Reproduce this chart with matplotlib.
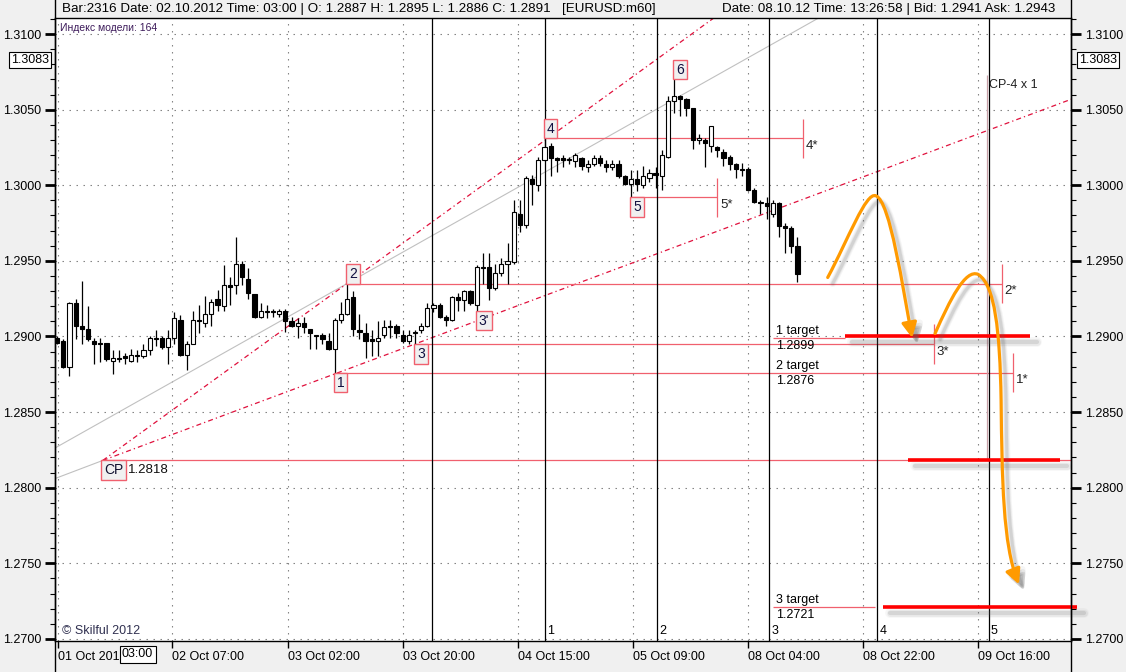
import numpy as np
import matplotlib.pyplot as plt
import matplotlib.transforms as mtransforms
from matplotlib.path import Path
from matplotlib.patches import FancyArrowPatch
from matplotlib.lines import Line2D
from matplotlib.ticker import MultipleLocator, FormatStrFormatter

plt.rcParams['font.family'] = ['Liberation Sans', 'DejaVu Sans']

# EURUSD H1 candles, one per bar index (01 Oct 13:00 .. 08 Oct 12:00)
opens = [1.2899, 1.2897, 1.2880, 1.2922, 1.2907, 1.2905, 1.2897, 1.2896, 1.2896, 1.2884,
         1.2886, 1.2887, 1.2884, 1.2888, 1.2887, 1.2891, 1.2899, 1.2899, 1.2893, 1.2899,
         1.2911, 1.2888, 1.2895, 1.2911, 1.2909, 1.2915, 1.2925, 1.2920, 1.2934, 1.2934,
         1.2948, 1.2938, 1.2928, 1.2913, 1.2917, 1.2917, 1.2915, 1.2917, 1.2910, 1.2907,
         1.2909, 1.2905, 1.2901, 1.2901, 1.2897, 1.2892, 1.2911, 1.2915, 1.2926, 1.2904,
         1.2902, 1.2898, 1.2897, 1.2901, 1.2907, 1.2907, 1.2901, 1.2897, 1.2902, 1.2904,
         1.2907, 1.2919, 1.2921, 1.2913, 1.2911, 1.2926, 1.2924, 1.2930, 1.2921, 1.2946,
         1.2946, 1.2932, 1.2942, 1.2948, 1.2949, 1.2981, 1.2974, 1.3004, 1.3000, 1.3017,
         1.3026, 1.3018, 1.3018, 1.3017, 1.3016, 1.3018, 1.3012, 1.3014, 1.3018, 1.3014,
         1.3012, 1.3014, 1.3006, 1.3001, 1.3004, 1.3000, 1.3005, 1.3008, 1.3006, 1.3019,
         1.3056, 1.3059, 1.3057, 1.3051, 1.3030, 1.3030, 1.3026, 1.3025, 1.3022, 1.3019,
         1.3014, 1.3011, 1.3011, 1.2997, 1.2989, 1.2988, 1.2981, 1.2988, 1.2973, 1.2972,
         1.2960]
highs = [1.2900, 1.2898, 1.2923, 1.2925, 1.2937, 1.2920, 1.2899, 1.2899, 1.2896, 1.2891,
         1.2891, 1.2889, 1.2892, 1.2891, 1.2895, 1.2900, 1.2904, 1.2900, 1.2904, 1.2916,
         1.2914, 1.2897, 1.2917, 1.2921, 1.2927, 1.2925, 1.2931, 1.2947, 1.2939, 1.2966,
         1.2950, 1.2945, 1.2928, 1.2922, 1.2921, 1.2918, 1.2918, 1.2918, 1.2913, 1.2912,
         1.2913, 1.2905, 1.2901, 1.2902, 1.2902, 1.2912, 1.2923, 1.2935, 1.2930, 1.2915,
         1.2909, 1.2904, 1.2910, 1.2911, 1.2911, 1.2908, 1.2904, 1.2904, 1.2904, 1.2909,
         1.2922, 1.2922, 1.2922, 1.2914, 1.2927, 1.2929, 1.2931, 1.2931, 1.2947, 1.2955,
         1.2955, 1.2948, 1.2952, 1.2962, 1.2990, 1.2990, 1.3006, 1.3007, 1.3019, 1.3031,
         1.3028, 1.3019, 1.3020, 1.3019, 1.3021, 1.3019, 1.3017, 1.3020, 1.3020, 1.3017,
         1.3017, 1.3017, 1.3007, 1.3010, 1.3010, 1.3013, 1.3011, 1.3012, 1.3023, 1.3059,
         1.3070, 1.3060, 1.3058, 1.3051, 1.3034, 1.3031, 1.3039, 1.3026, 1.3024, 1.3020,
         1.3015, 1.3015, 1.3012, 1.2998, 1.2990, 1.2992, 1.2990, 1.2989, 1.2975, 1.2973,
         1.2966]
lows = [1.2895, 1.2879, 1.2874, 1.2898, 1.2895, 1.2897, 1.2882, 1.2883, 1.2884, 1.2875,
        1.2883, 1.2882, 1.2883, 1.2883, 1.2886, 1.2888, 1.2894, 1.2892, 1.2882, 1.2895,
        1.2887, 1.2878, 1.2895, 1.2902, 1.2906, 1.2907, 1.2917, 1.2917, 1.2921, 1.2928,
        1.2934, 1.2925, 1.2912, 1.2912, 1.2912, 1.2913, 1.2913, 1.2903, 1.2906, 1.2899,
        1.2902, 1.2892, 1.2892, 1.2895, 1.2891, 1.2876, 1.2909, 1.2914, 1.2900, 1.2898,
        1.2886, 1.2887, 1.2887, 1.2899, 1.2899, 1.2899, 1.2896, 1.2895, 1.2895, 1.2902,
        1.2906, 1.2916, 1.2912, 1.2907, 1.2910, 1.2917, 1.2917, 1.2921, 1.2917, 1.2935,
        1.2924, 1.2931, 1.2940, 1.2935, 1.2948, 1.2969, 1.2972, 1.2987, 1.2996, 1.3016,
        1.3006, 1.3009, 1.3012, 1.3014, 1.3012, 1.3010, 1.3009, 1.3013, 1.3013, 1.3009,
        1.3010, 1.3005, 1.3000, 1.2992, 1.2996, 1.2998, 1.3002, 1.2998, 1.2997, 1.3018,
        1.3048, 1.3046, 1.3046, 1.3024, 1.3027, 1.3012, 1.3022, 1.3019, 1.3013, 1.3010,
        1.3005, 1.3006, 1.2996, 1.2988, 1.2981, 1.2978, 1.2979, 1.2966, 1.2955, 1.2955,
        1.2936]
closes = [1.2896, 1.2880, 1.2922, 1.2907, 1.2905, 1.2898, 1.2895, 1.2895, 1.2885, 1.2886,
          1.2885, 1.2886, 1.2888, 1.2887, 1.2891, 1.2899, 1.2898, 1.2893, 1.2899, 1.2912,
          1.2888, 1.2895, 1.2911, 1.2910, 1.2915, 1.2923, 1.2921, 1.2934, 1.2933, 1.2948,
          1.2939, 1.2929, 1.2913, 1.2917, 1.2916, 1.2916, 1.2917, 1.2910, 1.2907, 1.2909,
          1.2906, 1.2902, 1.2900, 1.2898, 1.2892, 1.2911, 1.2915, 1.2925, 1.2905, 1.2903,
          1.2897, 1.2897, 1.2899, 1.2906, 1.2906, 1.2902, 1.2897, 1.2901, 1.2903, 1.2907,
          1.2919, 1.2921, 1.2913, 1.2911, 1.2926, 1.2924, 1.2930, 1.2922, 1.2946, 1.2945,
          1.2932, 1.2942, 1.2948, 1.2950, 1.2982, 1.2974, 1.3005, 1.3001, 1.3017, 1.3025,
          1.3018, 1.3017, 1.3017, 1.3017, 1.3020, 1.3013, 1.3014, 1.3018, 1.3015, 1.3012,
          1.3014, 1.3006, 1.3001, 1.3004, 1.3001, 1.3006, 1.3008, 1.3007, 1.3020, 1.3056,
          1.3059, 1.3057, 1.3051, 1.3030, 1.3031, 1.3028, 1.3039, 1.3023, 1.3018, 1.3014,
          1.3011, 1.3010, 1.2997, 1.2989, 1.2988, 1.2986, 1.2988, 1.2973, 1.2972, 1.2960,
          1.2941]

# time scale (bar index of each label); first label is cut by the cursor box
time_ticks = [0.15, 18.62, 37.42, 56.06, 74.70, 93.34, 111.98, 130.62, 149.25]
time_labels = ['01 Oct 201', '02 Oct 07:00', '03 Oct 02:00', '03 Oct 20:00', '04 Oct 15:00',
               '05 Oct 09:00', '08 Oct 04:00', '08 Oct 22:00', '09 Oct 16:00']

# wave points
wave_names = ['1', '2', '3', "3'", '4', '5', '6']
wave_bars = [45, 47, 58, 68, 79, 93, 100]
wave_prices = [1.2876, 1.2935, 1.2895, 1.2917, 1.3031, 1.2992, 1.3070]
wave_is_low = [True, False, True, True, False, True, False]

# control point
cp_bar, cp_price = 7.4, 1.2818

# projected levels "N*"
star_names = ['1*', '2*', '3*', '4*', '5*']
star_prices = [1.2876, 1.2935, 1.2895, 1.3031, 1.2992]
star_start = [45, 47, 58, 79, 93]
star_end = [154.9, 153.1, 142.1, 120.9, 107.0]

# targets
target_names = ['1 target', '2 target', '3 target']
target_values = [1.2899, 1.2876, 1.2721]
target_label_bar = 116.5
target_line_end = [127.7, None, 132.5]

# bold red target bars
bold_prices = [1.2900, 1.2818, 1.2721]
bold_start = [127.7, 137.9, 133.9]
bold_end = [157.7, 162.5, 165.3]

# time verticals
vline_bars = [60.8, 79.1, 97.2, 115.4, 132.9, 151.0]
vline_labels = ['', '1', '2', '3', '4', '5']

# CP-4 x 1 marker
cp4_bar, cp4_top = 150.7, 1.3073

# gray helper lines
gray_b = [(0, 1.2827), (47, 1.2935)]
gray_a = [(-1, 1.2805), (cp_bar, cp_price)]

# forecast arrows (bezier control points, bar / price)
arrow1 = [(124.9, 1.2939), (128.2, 1.2964), (131.1, 1.2996), (132.7, 1.2993),
          (135.0, 1.2990), (137.1, 1.2931), (138.6, 1.2899)]
arrow2 = [(142.3, 1.2902), (144.7, 1.2924), (147.2, 1.2945), (149.3, 1.2941),
          (152.0, 1.2934), (152.8, 1.2904), (153.0, 1.2858),
          (153.15, 1.2805), (153.3, 1.2762), (155.9, 1.2736)]

W, H = 1126, 672
PINK = '#f0606e'
fig = plt.figure(figsize=(W / 100, H / 100), dpi=100, facecolor='#f0f0f0')
ax = fig.add_axes([55 / W, 1 - 641 / H, (1071 - 55) / W, (641 - 18) / H])
ax.set_facecolor('white')
ax.set_xlim(-0.34, 164.33)
ax.set_ylim(1.26986, 1.31106)


def fx(x):
    return x / W


def fy(y):
    return 1 - y / H


def shift(dx, dy):
    return ax.transData + mtransforms.ScaledTranslation(dx / 100, -dy / 100, fig.dpi_scale_trans)


# grid and axes
ax.yaxis.set_major_locator(MultipleLocator(0.005))
ax.yaxis.set_minor_locator(MultipleLocator(0.001))
ax.yaxis.set_major_formatter(FormatStrFormatter('%.4f'))
ax.set_xticks(time_ticks)
ax.set_xticklabels(time_labels)
for lbl in ax.get_xticklabels():
    lbl.set_ha('left')
ax.tick_params(axis='x', length=5, width=1, pad=2, labelsize=9)
ax.tick_params(axis='y', which='major', left=True, right=True, labelleft=True,
               labelright=True, length=7, width=2, pad=3, labelsize=9)
ax.tick_params(axis='y', which='minor', left=True, right=True, length=3.5, width=0.8)
ax.grid(True, which='major', color='#808080', lw=0.8, linestyle=(0, (1.3, 5)))
ax.set_axisbelow(True)
for s in ax.spines.values():
    s.set_linewidth(1)

# candles
idx = np.arange(len(opens))
o = np.array(opens)
c = np.array(closes)
up = c >= o
ax.vlines(idx, lows, highs, color='black', lw=0.9, zorder=3)
ax.bar(idx, np.maximum(np.abs(c - o), 0.00003), bottom=np.minimum(o, c), width=0.68,
       color=np.where(up, 'white', 'black'), edgecolor='black', lw=0.8, zorder=4)

# gray lines
ax.axline(gray_b[0], gray_b[1], color='#c0c0c0', lw=0.8, zorder=2)
ax.plot([p[0] for p in gray_a], [p[1] for p in gray_a], color='#c0c0c0', lw=0.8, zorder=2)

# red dash-dot lines from CP through 2 and through 3
for wb, wp in [(47, 1.2935), (58, 1.2895)]:
    slope = (wp - cp_price) / (wb - cp_bar)
    ax.plot([cp_bar, 300], [cp_price, cp_price + slope * (300 - cp_bar)],
            color='#e0103c', lw=0.9, linestyle=(0, (4, 2.5, 1, 2.5)), zorder=2)

# CP level
ax.hlines(cp_price, cp_bar, 170, color=PINK, lw=0.9, zorder=2)
ax.annotate('CP', xy=(cp_bar, cp_price), xytext=(1, -2), textcoords='offset points',
            ha='left', va='top', fontsize=10, color='#101030',
            bbox=dict(boxstyle='square,pad=0.2', fc='#f0f0f0', ec=PINK, lw=1), zorder=6)
ax.annotate(f'{cp_price:.4f}', xy=(cp_bar, cp_price), xytext=(18, -2.5),
            textcoords='offset points', ha='left', va='top', fontsize=9.5, color='#101010')

# star levels
for name, p, b0, b1 in zip(star_names, star_prices, star_start, star_end):
    ax.hlines(p, b0, b1, color=PINK, lw=0.9, zorder=2)
    ax.vlines(b1, p - 0.0013, p + 0.0013, color=PINK, lw=0.9, zorder=2)
    ax.annotate(name, xy=(b1, p), xytext=(2, -5.5), textcoords='offset points',
                ha='left', va='center', fontsize=9.5, color='#202020')

# wave labels
for name, b, p, low in zip(wave_names, wave_bars, wave_prices, wave_is_low):
    ax.annotate(name, xy=(b, p), xytext=(1.5, -2 if low else 2), textcoords='offset points',
                ha='left', va='top' if low else 'bottom', fontsize=10, color='#101040',
                bbox=dict(boxstyle='square,pad=0.2', fc='#f0f0f0', ec=PINK, lw=1), zorder=6)

# vertical time lines
bx = mtransforms.blended_transform_factory(ax.transData, ax.transAxes)
for b, lab in zip(vline_bars, vline_labels):
    ax.axvline(b, color='black', lw=0.9, zorder=2)
    if lab:
        ax.text(b + 0.35, 0.016, lab, transform=bx, ha='left', va='center', fontsize=9)

# CP-4 x 1
ax.vlines(cp4_bar, cp_price, cp4_top, color='#c8a0a8', lw=0.9, zorder=2)
ax.text(cp4_bar + 0.4, 1.30665, 'CP-4 x 1', ha='left', va='center', fontsize=9, color='#202020')

# target labels
for name, v, end in zip(target_names, target_values, target_line_end):
    ax.text(target_label_bar, v + 0.00008, name, ha='left', va='bottom', fontsize=9)
    ax.text(target_label_bar, v - 0.00012, f'{v:.4f}', ha='left', va='top', fontsize=9)
    if end is not None:
        ax.hlines(v, target_label_bar - 0.5, end, color=PINK, lw=0.9, zorder=2)

# bold red bars with shadow
for p, b0, b1 in zip(bold_prices, bold_start, bold_end):
    for lw, a in [(7, 0.05), (5, 0.08), (3, 0.15)]:
        ax.plot([b0 + 0.3, b1 + 0.3], [p, p], color='#606060', lw=lw, alpha=a,
                transform=shift(5, 6), solid_capstyle='round', clip_on=False, zorder=5)
    ax.plot([b0, b1], [p, p], color='#ff0000', lw=2.6, solid_capstyle='butt',
            clip_on=False, zorder=6)


# orange arrows with shadow
def bezier_path(pts):
    codes = [Path.MOVETO] + [Path.CURVE4] * (len(pts) - 1)
    return Path(pts, codes)


for pts in [arrow1, arrow2]:
    for lw, a in [(5, 0.06), (3.5, 0.09), (2.2, 0.15)]:
        sh = FancyArrowPatch(path=bezier_path(pts), arrowstyle='-|>,head_length=0.9,head_width=0.45',
                             mutation_scale=10, color='#606060', lw=lw, alpha=a, zorder=6)
        sh.set_transform(shift(5, 6))
        ax.add_patch(sh)
    ar = FancyArrowPatch(path=bezier_path(pts), arrowstyle='-|>,head_length=0.9,head_width=0.45',
                         mutation_scale=10, color='#ff9a00', lw=2.3, zorder=7)
    ax.add_patch(ar)

# frame lines through header and footer
for x in (55, 1071):
    fig.add_artist(Line2D([fx(x), fx(x)], [0, 1], color='black', lw=1))

# header
fig.text(fx(62), fy(9), 'Bar:2316 Date: 02.10.2012 Time: 03:00 | O: 1.2887 H: 1.2895 '
         'L: 1.2886 C: 1.2891', ha='left', va='center', fontsize=9.6)
fig.text(fx(562), fy(9), '[EURUSD:m60]', ha='left', va='center', fontsize=9.6)
fig.text(fx(1055), fy(9), 'Date: 08.10.12 Time: 13:26:58 | Bid: 1.2941 Ask: 1.2943',
         ha='right', va='center', fontsize=9.6)
fig.text(fx(60), fy(28), 'Индекс модели: 164', ha='left', va='center', fontsize=7.5,
         color='#3c1a5a')
fig.text(fx(62), fy(631), '© Skilful 2012', ha='left', va='center', fontsize=9,
         color='#303050')

# crosshair boxes
fig.text(fx(1079), fy(60), '1.3083', ha='left', va='center', fontsize=9,
         bbox=dict(boxstyle='square,pad=0.15', fc='white', ec='black', lw=0.8))
fig.text(fx(49), fy(60), '1.3083', ha='right', va='center', fontsize=9,
         bbox=dict(boxstyle='square,pad=0.15', fc='white', ec='black', lw=0.8))
fig.text(fx(122), fy(654), '03:00', ha='left', va='center', fontsize=9,
         bbox=dict(boxstyle='square,pad=0.2', fc='white', ec='black', lw=0.8))

fig.savefig('out.png', dpi=100, facecolor=fig.get_facecolor())
